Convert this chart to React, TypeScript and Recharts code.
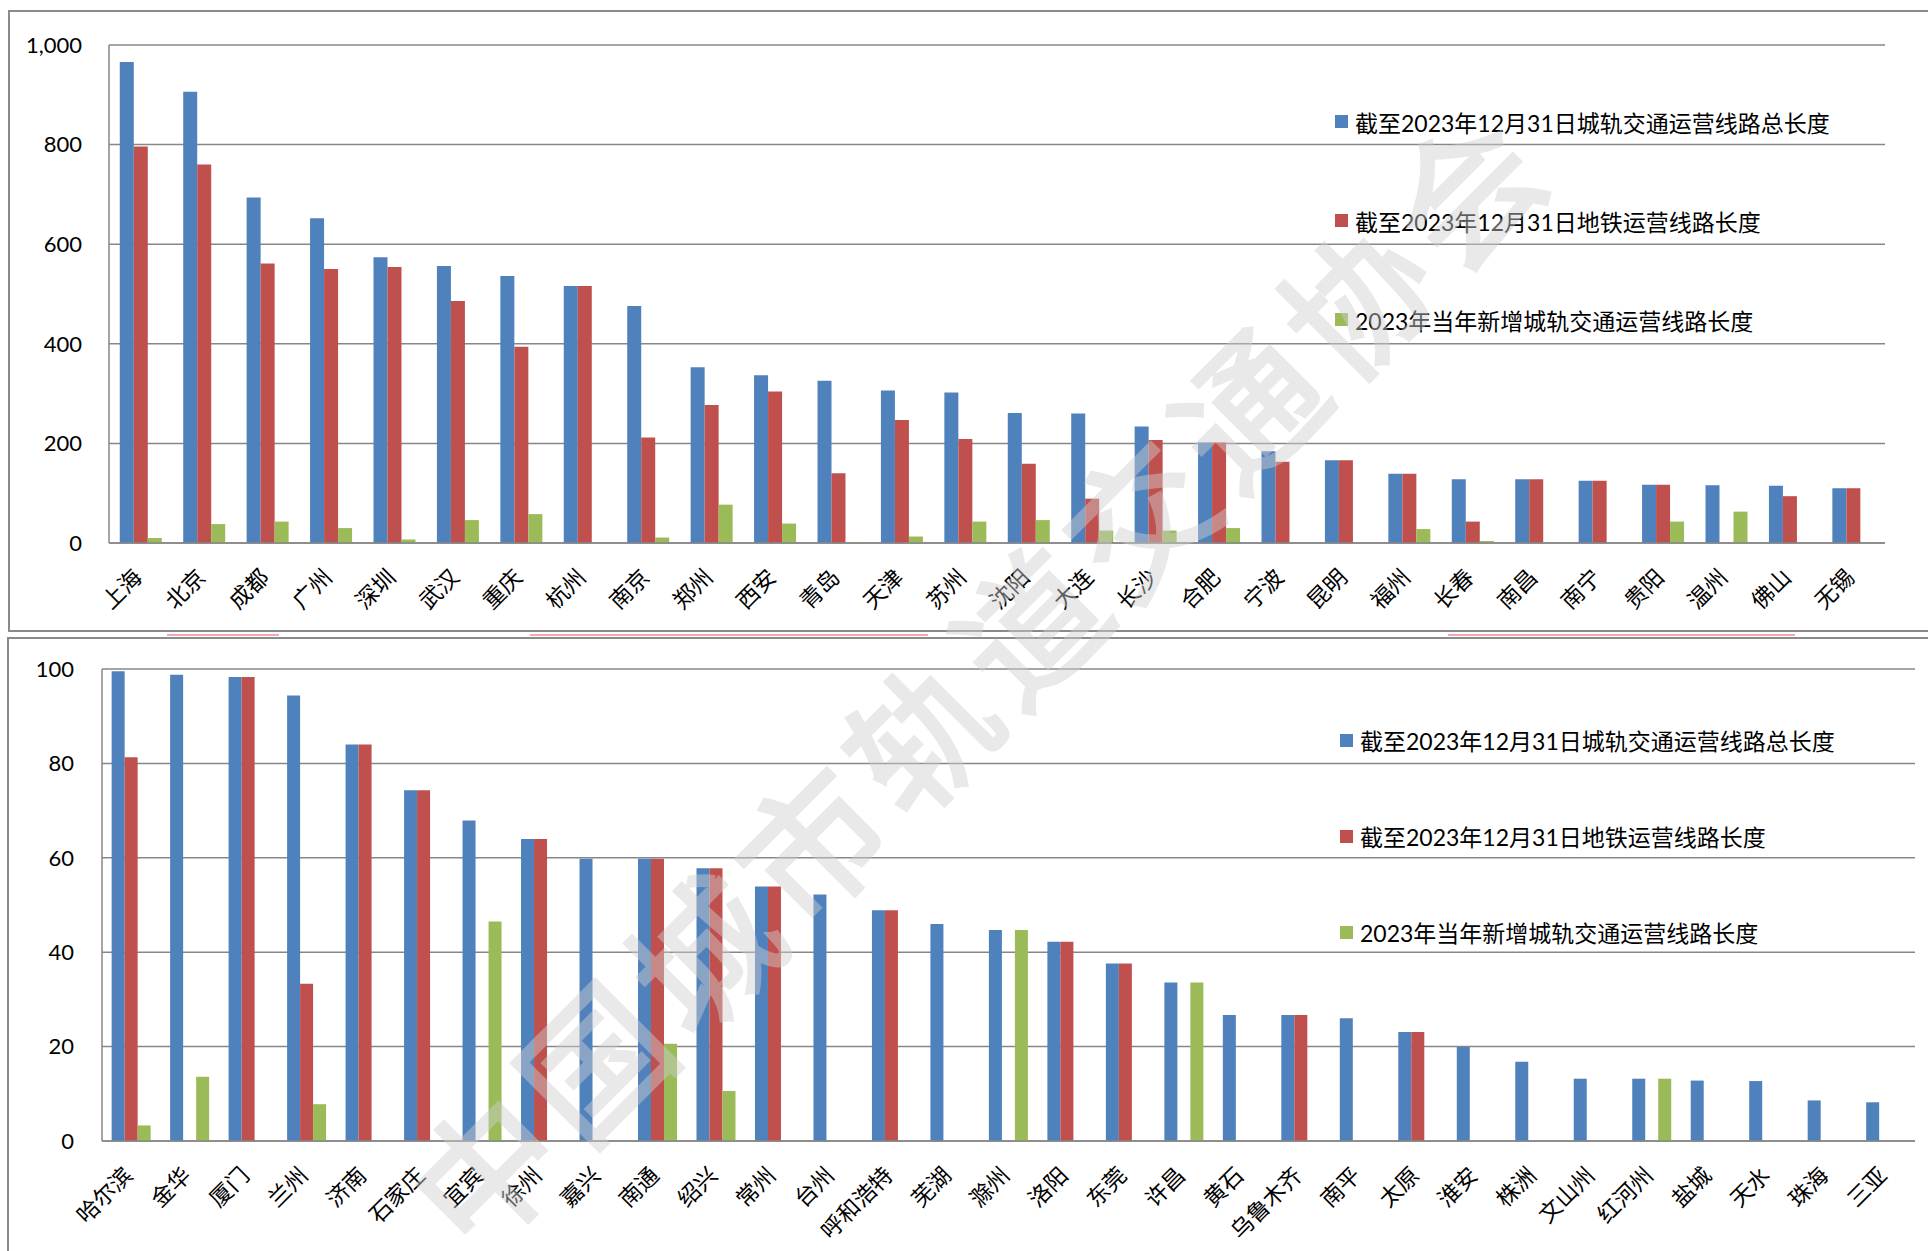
import React from 'react';
import { BarChart, Bar, XAxis, YAxis, CartesianGrid, Legend } from 'recharts';

// ---- Series names / colours ----
const seriesNames = [
  '截至2023年12月31日城轨交通运营线路总长度',
  '截至2023年12月31日地铁运营线路长度',
  '2023年当年新增城轨交通运营线路长度',
];
const seriesColors = ['#4F81BD', '#C0504D', '#9BBB59'];

// ---- Top panel data ----
const topCities = ['上海', '北京', '成都', '广州', '深圳', '武汉', '重庆', '杭州', '南京', '郑州', '西安', '青岛', '天津', '苏州', '沈阳', '大连', '长沙', '合肥', '宁波', '昆明', '福州', '长春', '南昌', '南宁', '贵阳', '温州', '佛山', '无锡'];
const topTotal = [966, 906, 694, 652, 574, 556, 536, 516, 476, 353, 337, 326, 306, 302, 261, 260, 234, 202, 184, 166, 139, 128, 128, 125, 117, 116, 115, 110];
const topMetro = [796, 760, 561, 550, 554, 486, 394, 516, 212, 277, 304, 140, 247, 209, 159, 89, 207, 202, 163, 166, 139, 43, 128, 125, 117, null, 94, 110];
const topNew = [10, 38, 43, 30, 7, 46, 58, null, 11, 77, 39, 2, 13, 43, 46, 25, 25, 30, null, null, 28, 4, null, null, 43, 63, null, null];
const topTicks = [0, 200, 400, 600, 800, 1000];

// ---- Bottom panel data ----
const botCities = ['哈尔滨', '金华', '厦门', '兰州', '济南', '石家庄', '宜宾', '徐州', '嘉兴', '南通', '绍兴', '常州', '台州', '呼和浩特', '芜湖', '滁州', '洛阳', '东莞', '许昌', '黄石', '乌鲁木齐', '南平', '太原', '淮安', '株洲', '文山州', '红河州', '盐城', '天水', '珠海', '三亚'];
const botTotal = [99.5, 98.8, 98.3, 94.4, 84.0, 74.3, 67.9, 64.0, 59.8, 59.8, 57.8, 53.9, 52.2, 48.9, 46.0, 44.7, 42.2, 37.6, 33.6, 26.7, 26.7, 26.0, 23.1, 19.9, 16.8, 13.2, 13.2, 12.8, 12.7, 8.6, 8.2];
const botMetro = [81.3, null, 98.3, 33.3, 84.0, 74.3, null, 64.0, null, 59.8, 57.8, 53.9, null, 48.9, null, null, 42.2, 37.6, null, null, 26.7, null, 23.1, null, null, null, null, null, null, null, null];
const botNew = [3.3, 13.6, null, 7.8, null, null, 46.5, null, null, 20.6, 10.6, null, null, null, null, 44.7, null, null, 33.6, null, null, null, null, null, null, null, 13.2, null, null, null, null];
const botTicks = [0, 20, 40, 60, 80, 100];

const watermarkText = '中国城市轨道交通协会';

const buildRows = (cities: string[], a: (number | null)[], b: (number | null)[], c: (number | null)[]) =>
  cities.map((city, i) => ({ city, total: a[i], metro: b[i], added: c[i] }));

const topData = buildRows(topCities, topTotal, topMetro, topNew);
const botData = buildRows(botCities, botTotal, botMetro, botNew);

const FONT = "Lato, 'Noto Sans CJK SC', sans-serif";
const GRID = '#878787';

function CityTick(props: any) {
  const { x, y, payload } = props;
  return (
    <g transform={`translate(${x - 10},${y + 23}) rotate(-45)`}>
      <text textAnchor="end" dy="0.8em" fontSize={22.5} fill="#000" fontFamily="'Noto Sans CJK SC', sans-serif">
        {payload.value}
      </text>
    </g>
  );
}

const makeLegend = (rowH: number) => () => (
  <div style={{ fontFamily: FONT, fontSize: 23, color: '#000', whiteSpace: 'nowrap' }}>
    {seriesNames.map((n, i) => (
      <div key={i} style={{ display: 'flex', alignItems: 'center', height: rowH }}>
        <span style={{ display: 'inline-block', width: 13, height: 13, background: seriesColors[i], marginRight: 7 }} />
        <span>{n}</span>
      </div>
    ))}
  </div>
);

const fmt = (v: number) => v.toLocaleString('en-US');

export default function App() {
  return (
    <div style={{ position: 'absolute', left: 0, top: 0, width: 1928, height: 1251, overflow: 'hidden', background: '#fff' }}>
      {/* panel frames */}
      <div style={{ position: 'absolute', left: 8, top: 10, width: 1940, height: 622, border: '2px solid #8a8a8a', boxSizing: 'border-box' }} />
      <div style={{ position: 'absolute', left: 7, top: 636.5, width: 1940, height: 640, border: '2px solid #8a8a8a', boxSizing: 'border-box' }} />
      {/* faint pink bands between the panels */}
      <div style={{ position: 'absolute', left: 167, top: 634, width: 112, height: 2, background: '#f3a9b1' }} />
      <div style={{ position: 'absolute', left: 530, top: 634, width: 398, height: 2, background: '#f3a9b1' }} />
      <div style={{ position: 'absolute', left: 1448, top: 634, width: 347, height: 2, background: '#f3a9b1' }} />

      <div style={{ position: 'absolute', left: 0, top: 0 }}>
        <BarChart width={1928} height={633} data={topData} margin={{ top: 45, right: 43, left: 9, bottom: 0 }} barCategoryGap="17%" barGap={0}>
          <CartesianGrid vertical={false} stroke={GRID} strokeWidth={1.5} />
          <XAxis dataKey="city" interval={0} height={90} tickSize={0} tickMargin={0} tickLine={false} axisLine={{ stroke: GRID, strokeWidth: 1.5 }} tick={<CityTick />} />
          <YAxis width={100} domain={[0, 1000]} ticks={topTicks} tickFormatter={fmt} tickSize={0} tickMargin={27} tickLine={false} axisLine={{ stroke: GRID, strokeWidth: 1.5 }} tick={{ fontSize: 22, fill: '#000', fontFamily: FONT }} />
          <Legend layout="vertical" align="center" verticalAlign="middle" content={makeLegend(99)} wrapperStyle={{ position: 'absolute', left: 1335, top: 72, width: 'auto', height: 'auto' }} />
          <Bar dataKey="total" name={seriesNames[0]} fill={seriesColors[0]} isAnimationActive={false} />
          <Bar dataKey="metro" name={seriesNames[1]} fill={seriesColors[1]} isAnimationActive={false} />
          <Bar dataKey="added" name={seriesNames[2]} fill={seriesColors[2]} isAnimationActive={false} />
        </BarChart>
      </div>

      <div style={{ position: 'absolute', left: 0, top: 638 }}>
        <BarChart width={1928} height={613} data={botData} margin={{ top: 31, right: 13, left: 2, bottom: 0 }} barCategoryGap="16.5%" barGap={0}>
          <CartesianGrid vertical={false} stroke={GRID} strokeWidth={1.5} />
          <XAxis dataKey="city" interval={0} height={110} tickSize={0} tickMargin={0} tickLine={false} axisLine={{ stroke: GRID, strokeWidth: 1.5 }} tick={<CityTick />} />
          <YAxis width={100} domain={[0, 100]} ticks={botTicks} tickSize={0} tickMargin={28} tickLine={false} axisLine={{ stroke: GRID, strokeWidth: 1.5 }} tick={{ fontSize: 22, fill: '#000', fontFamily: FONT }} />
          <Legend layout="vertical" align="center" verticalAlign="middle" content={makeLegend(96)} wrapperStyle={{ position: 'absolute', left: 1340, top: 54, width: 'auto', height: 'auto' }} />
          <Bar dataKey="total" name={seriesNames[0]} fill={seriesColors[0]} isAnimationActive={false} />
          <Bar dataKey="metro" name={seriesNames[1]} fill={seriesColors[1]} isAnimationActive={false} />
          <Bar dataKey="added" name={seriesNames[2]} fill={seriesColors[2]} isAnimationActive={false} />
        </BarChart>
      </div>

      {/* watermark */}
      <svg width={1928} height={1251} style={{ position: 'absolute', left: 0, top: 0, pointerEvents: 'none' }}>
        <g opacity={0.45}>
          <text x={975} y={672} transform="rotate(-45 975 672)" textAnchor="middle" dominantBaseline="central" fontSize={142} fontWeight={400} letterSpacing={12} fill="#cfcfcf" stroke="#cfcfcf" strokeWidth={4} fontFamily="'Noto Sans CJK SC', sans-serif">
            {watermarkText}
          </text>
        </g>
      </svg>
    </div>
  );
}
